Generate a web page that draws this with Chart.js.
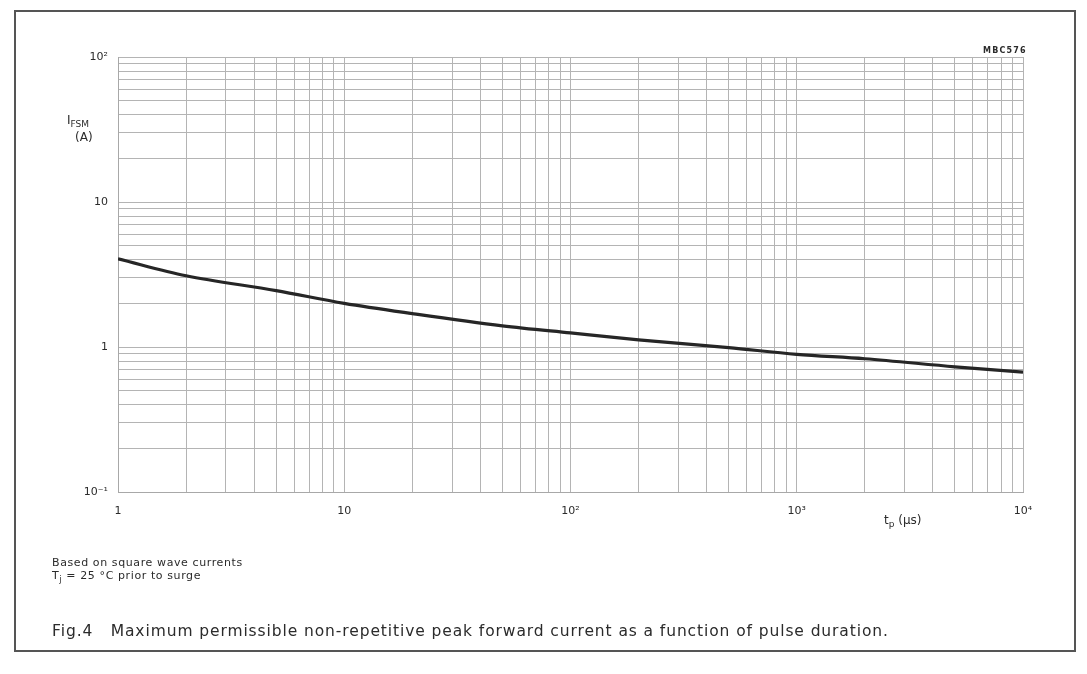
<!DOCTYPE html>
<html>
<head>
<meta charset="utf-8">
<script src="https://cdn.jsdelivr.net/npm/chart.js@4.4.1/dist/chart.umd.min.js"></script>
<style>
  body { margin: 0; background: #fff; font-family: "DejaVu Sans", "Liberation Sans", sans-serif; color: #2b2b2b; }
  #wrap { position: relative; width: 1087px; height: 674px; overflow: hidden; }
  #frame { position: absolute; left: 14px; top: 10px; width: 1062px; height: 642px; border: 2px solid #555; box-sizing: border-box; }
  canvas { position: absolute; left: 0; top: 0; }
  .lbl { position: absolute; white-space: nowrap; }
  sub { font-size: 75%; vertical-align: -3px; line-height: 0; }
</style>
</head>
<body>
<div id="wrap">
  <div id="frame"></div>
  <canvas id="grafico" width="1087" height="674"></canvas>
  <div class="lbl" style="left:983px; top:46px; font-size:8px; font-weight:bold; letter-spacing:1.2px;">MBC576</div>
  <div class="lbl" style="left:67px; top:112px; font-size:12px; line-height:17px;">I<sub>FSM</sub><br><span style="padding-left:8px">(A)</span></div>
  <div class="lbl" style="left:884px; top:513px; font-size:12px;">t<sub>p</sub> (µs)</div>
  <div class="lbl" style="left:52px; top:556px; font-size:11px; line-height:13px; letter-spacing:0.6px;">Based on square wave currents<br>T<sub>j</sub> = 25 °C prior to surge</div>
  <div class="lbl" style="left:52px; top:622px; font-size:15.5px; letter-spacing:0.9px;">Fig.4&nbsp;&nbsp;&nbsp;Maximum permissible non-repetitive peak forward current as a function of pulse duration.</div>
</div>
<script>
// datos
const pulseTimes = [1, 2, 5, 10, 20, 50, 100, 200, 500, 1000, 2000, 5000, 10000];
const ifsm = [4.05, 3.1, 2.45, 2.0, 1.7, 1.4, 1.25, 1.12, 0.99, 0.89, 0.83, 0.73, 0.67];

const xDecades = [1, 10, 100, 1000, 10000];
const xTickLabels = ['1', '10', '10²', '10³', '10⁴'];
const yDecades = [0.1, 1, 10, 100];
const yTickLabels = ['10⁻¹', '1', '10', '10²'];

// lineas de la grilla: 1..9 en cada decada
function gridValues(decades) {
    const vals = [];
    for (let i = 0; i < decades.length - 1; i++) {
        for (let m = 1; m < 10; m++) vals.push(decades[i] * m);
    }
    vals.push(decades[decades.length - 1]);
    return vals;
}

function decadeLabel(value, decades, labels) {
    for (let i = 0; i < decades.length; i++) {
        if (Math.abs(value - decades[i]) < decades[i] * 1e-6) return labels[i];
    }
    return '';
}

const gridColor = '#b4b4b4';
const tickFont = { family: 'DejaVu Sans', size: 11 };

new Chart(document.getElementById('grafico').getContext('2d'), {
    type: 'line',
    data: {
        datasets: [{
            data: pulseTimes.map((t, i) => ({ x: t, y: ifsm[i] })),
            borderColor: '#262626',
            borderWidth: 3.2,
            pointRadius: 0,
            cubicInterpolationMode: 'monotone',
            fill: false
        }]
    },
    options: {
        responsive: false,
        devicePixelRatio: 1,
        animation: false,
        layout: { padding: { left: 0, right: 64, top: 57, bottom: 0 } },
        plugins: { legend: { display: false }, tooltip: { enabled: false } },
        scales: {
            x: {
                type: 'logarithmic',
                min: 1,
                max: 10000,
                afterBuildTicks: s => { s.ticks = gridValues(xDecades).map(v => ({ value: v })); },
                afterFit: s => { s.height = 182; },
                grid: { color: gridColor, lineWidth: 1, drawTicks: false },
                border: { color: '#a8a8a8' },
                ticks: {
                    autoSkip: false,
                    maxRotation: 0,
                    padding: 13,
                    color: '#2b2b2b',
                    font: tickFont,
                    callback: v => decadeLabel(v, xDecades, xTickLabels)
                }
            },
            y: {
                type: 'logarithmic',
                min: 0.1,
                max: 100,
                afterBuildTicks: s => { s.ticks = gridValues(yDecades).map(v => ({ value: v })); },
                afterFit: s => { s.width = 118; },
                grid: { color: gridColor, lineWidth: 1, drawTicks: false },
                border: { color: '#a8a8a8' },
                ticks: {
                    autoSkip: false,
                    padding: 10,
                    color: '#2b2b2b',
                    font: tickFont,
                    callback: v => decadeLabel(v, yDecades, yTickLabels)
                }
            }
        }
    }
});
</script>
</body>
</html>
